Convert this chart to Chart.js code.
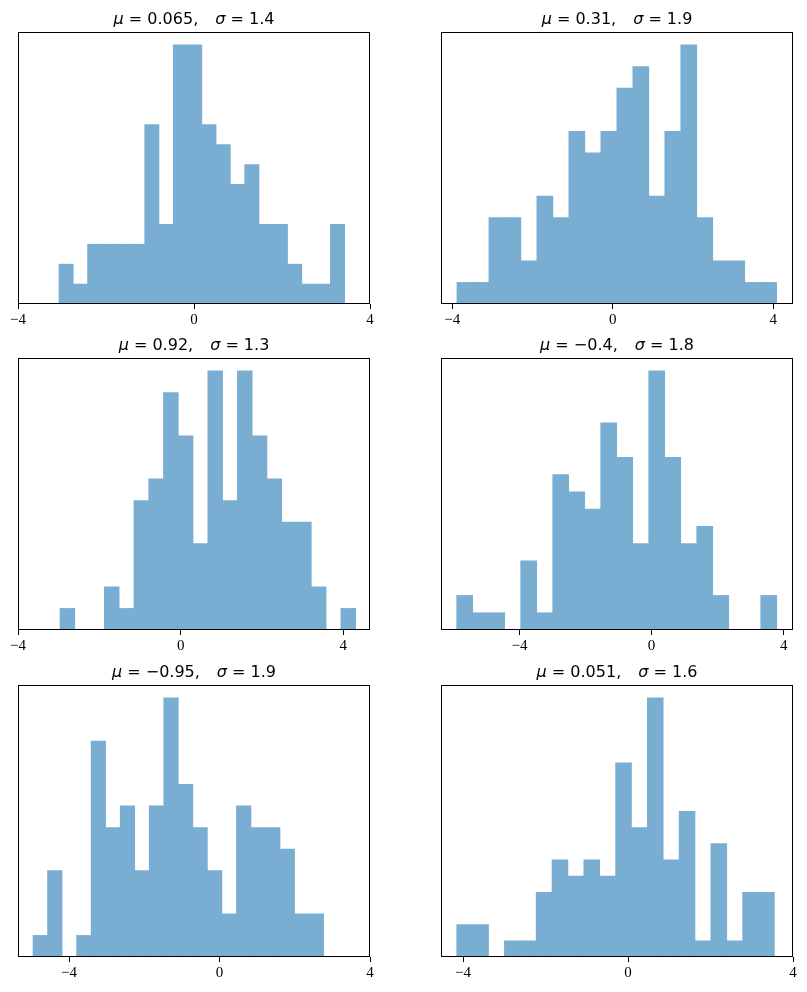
<!DOCTYPE html>
<html>
<head>
<meta charset="utf-8">
<script src="https://cdn.jsdelivr.net/npm/chart.js@4.4.0/dist/chart.umd.min.js"></script>
<style>
html, body { margin: 0; padding: 0; background: #fff; overflow: hidden; }
body { width: 807px; height: 992px; position: relative; }
canvas { position: absolute; }
</style>
</head>
<body>
<script>
// counts per bin (20 bins each)
const counts1 = [2, 1, 3, 3, 3, 3, 9, 4, 13, 13, 9, 8, 6, 7, 4, 4, 2, 1, 1, 4];
const counts2 = [1, 1, 4, 4, 2, 5, 4, 8, 7, 8, 10, 11, 5, 8, 12, 4, 2, 2, 1, 1];
const counts3 = [1, 0, 0, 2, 1, 6, 7, 11, 9, 4, 12, 6, 12, 9, 7, 5, 5, 2, 0, 1];
const counts4 = [2, 1, 1, 0, 4, 1, 9, 8, 7, 12, 10, 5, 15, 10, 5, 6, 2, 0, 0, 2];
const counts5 = [1, 4, 0, 1, 10, 6, 7, 4, 7, 12, 8, 6, 4, 2, 7, 6, 6, 5, 2, 2];
const counts6 = [2, 2, 0, 1, 1, 4, 6, 5, 6, 5, 12, 8, 16, 6, 9, 1, 7, 1, 4, 4];

// first and last bin edge
const edges1 = [-3.068, 3.424];
const edges2 = [-3.883, 4.084];
const edges3 = [-2.967, 4.303];
const edges4 = [-5.898, 3.788];
const edges5 = [-4.957, 2.767];
const edges6 = [-4.153, 3.549];

// x limits of each panel
const xlim1 = [-4, 4];
const xlim2 = [-4.28, 4.49];
const xlim3 = [-4, 4.656];
const xlim4 = [-6.373, 4.28];
const xlim5 = [-5.356, 4];
const xlim6 = [-4.535, 4];

const muLabels = ['0.065', '0.31', '0.92', '\u22120.4', '\u22120.95', '0.051'];
const sigmaLabels = ['1.4', '1.9', '1.3', '1.8', '1.9', '1.6'];
const xTicks = [-4, 0, 4];

const panels = [
    { counts: counts1, edges: edges1, xlim: xlim1 },
    { counts: counts2, edges: edges2, xlim: xlim2 },
    { counts: counts3, edges: edges3, xlim: xlim3 },
    { counts: counts4, edges: edges4, xlim: xlim4 },
    { counts: counts5, edges: edges5, xlim: xlim5 },
    { counts: counts6, edges: edges6, xlim: xlim6 }
];

// layout of the axes boxes on the page
const colLeft = [18, 441];
const rowTop = [32, 358, 685];
const W = 352, H = 272;
const PADL = 16, PADR = 16, PADT = 30, PADB = 40, AXIS_H = 30;

const framePlugin = {
    id: 'frame',
    afterDraw: function (chart) {
        const a = chart.chartArea;
        const ctx = chart.ctx;
        ctx.save();
        ctx.strokeStyle = '#000';
        ctx.lineWidth = 1;
        ctx.strokeRect(a.left + 0.5, a.top + 0.5, a.right - a.left - 1, a.bottom - a.top - 1);
        ctx.restore();
    }
};

function titlePlugin(i) {
    return {
        id: 'mathTitle',
        afterDraw: function (chart) {
            const a = chart.chartArea;
            const ctx = chart.ctx;
            const normal = '16px "DejaVu Sans"';
            const italic = 'italic 16px "DejaVu Sans"';
            const parts = [
                { t: '\u03bc', f: italic },
                { t: ' = ' + muLabels[i] + ',', f: normal },
                { gap: 17 },
                { t: '\u03c3', f: italic },
                { t: ' = ' + sigmaLabels[i], f: normal }
            ];
            ctx.save();
            let total = 0;
            parts.forEach(function (p) {
                if (p.gap) { p.w = p.gap; }
                else { ctx.font = p.f; p.w = ctx.measureText(p.t).width; }
                total += p.w;
            });
            let x = (a.left + a.right) / 2 - total / 2;
            const y = a.top - 8;
            ctx.fillStyle = '#000';
            ctx.textBaseline = 'alphabetic';
            ctx.textAlign = 'left';
            parts.forEach(function (p) {
                if (!p.gap) { ctx.font = p.f; ctx.fillText(p.t, x, y); }
                x += p.w;
            });
            ctx.restore();
        }
    };
}

panels.forEach(function (p, i) {
    const canvas = document.createElement('canvas');
    canvas.width = W + PADL + PADR;
    canvas.height = H + PADT + PADB;
    canvas.style.left = (colLeft[i % 2] - PADL) + 'px';
    canvas.style.top = (rowTop[Math.floor(i / 2)] - PADT) + 'px';
    document.body.appendChild(canvas);

    const binWidth = (p.edges[1] - p.edges[0]) / p.counts.length;
    const points = p.counts.map(function (c, k) {
        return { x: p.edges[0] + binWidth * (k + 0.5), y: c };
    });

    new Chart(canvas, {
        type: 'bar',
        data: {
            datasets: [{
                data: points,
                backgroundColor: '#79add2',
                borderWidth: 0,
                barPercentage: 1,
                categoryPercentage: 1
            }]
        },
        options: {
            responsive: false,
            animation: false,
            devicePixelRatio: 1,
            layout: { padding: { left: PADL, right: PADR, top: PADT, bottom: PADB - AXIS_H } },
            plugins: {
                legend: { display: false },
                tooltip: { enabled: false },
                title: { display: false }
            },
            scales: {
                x: {
                    type: 'linear',
                    min: p.xlim[0],
                    max: p.xlim[1],
                    offset: false,
                    afterBuildTicks: function (s) { s.ticks = xTicks.map(function (v) { return { value: v }; }); },
                    afterFit: function (s) { s.height = AXIS_H; },
                    grid: { display: true, offset: false, drawOnChartArea: false, drawTicks: true, tickLength: 5, color: '#000', lineWidth: 1 },
                    border: { display: false },
                    ticks: {
                        autoSkip: false,
                        maxRotation: 0,
                        padding: 2,
                        color: '#000',
                        font: { family: 'Liberation Serif', size: 15 },
                        callback: function (v) { return v < 0 ? '\u2212' + Math.abs(v) : String(v); }
                    }
                },
                y: {
                    display: false,
                    min: 0,
                    max: Math.max.apply(null, p.counts) * 1.05
                }
            }
        },
        plugins: [framePlugin, titlePlugin(i)]
    });
});
</script>
</body>
</html>
